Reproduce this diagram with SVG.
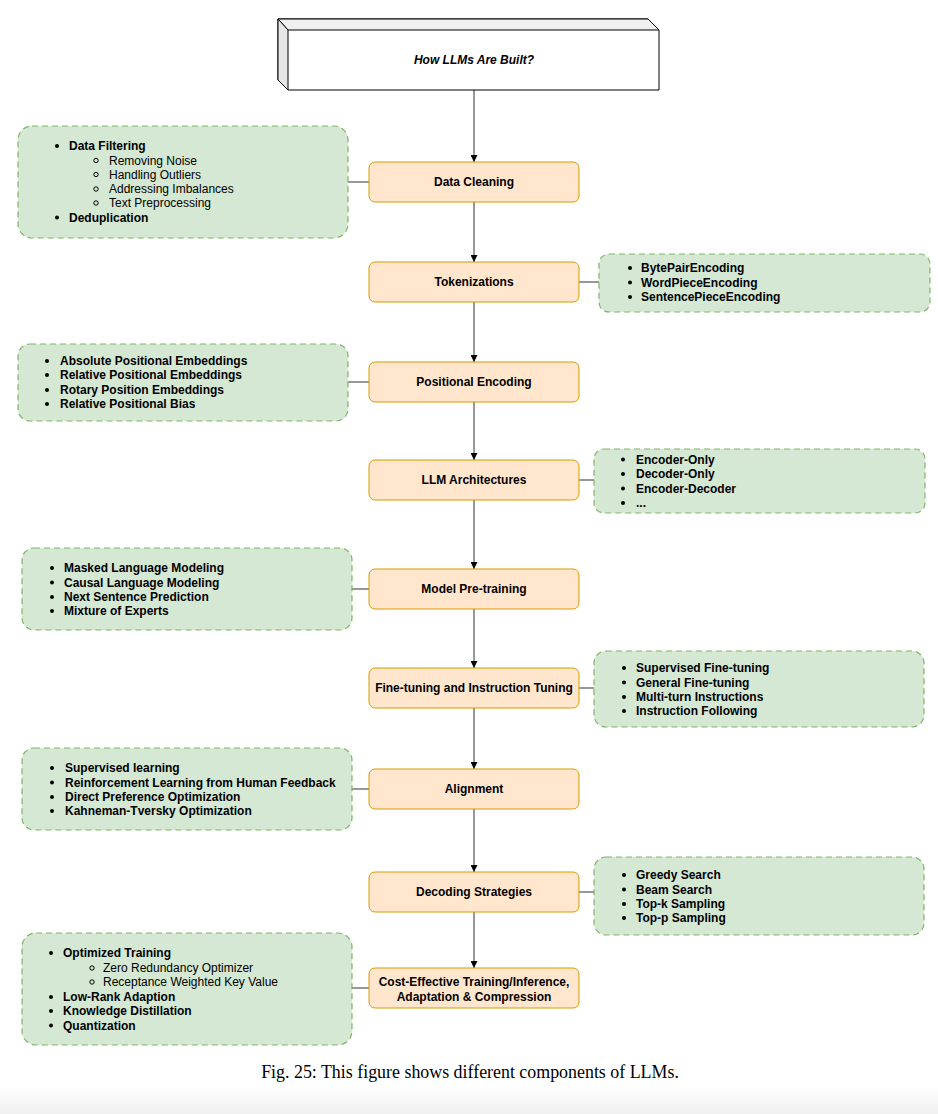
<svg xmlns="http://www.w3.org/2000/svg" width="938" height="1114" viewBox="0 0 938 1114">
<style>
.step{fill:#ffe6cc;stroke:#d79b00;stroke-width:1}
.list{fill:#d5e8d4;stroke:#82b366;stroke-width:1.2;stroke-dasharray:6 4}
.t{font-family:"Liberation Sans",Arial,sans-serif;font-size:12px;font-weight:bold;fill:#000}
.s{font-family:"Liberation Sans",Arial,sans-serif;font-size:12px;fill:#000}
.c{text-anchor:middle}
.bul{fill:#000}
.sub{fill:none;stroke:#000;stroke-width:1}
.conn line{stroke:#333;stroke-width:1}
</style>
<defs>
<marker id="arr" viewBox="0 0 10 10" refX="10" refY="5" markerWidth="7" markerHeight="7" orient="auto" markerUnits="userSpaceOnUse">
<path d="M0,0 L10,5 L0,10 Z" fill="#000"/>
</marker>
<linearGradient id="fade" x1="0" y1="0" x2="0" y2="1">
<stop offset="0" stop-color="#ffffff"/>
<stop offset="1" stop-color="#f0f0f0"/>
</linearGradient>
</defs>
<rect x="0" y="0" width="938" height="1114" fill="#fff"/>
<rect x="0" y="1085" width="938" height="29" fill="url(#fade)"/>

<g id="connectors" class="conn">
<line x1="474" y1="90" x2="474" y2="162" marker-end="url(#arr)"/>
<line x1="474" y1="202" x2="474" y2="262" marker-end="url(#arr)"/>
<line x1="474" y1="302" x2="474" y2="362" marker-end="url(#arr)"/>
<line x1="474" y1="402" x2="474" y2="460" marker-end="url(#arr)"/>
<line x1="474" y1="500" x2="474" y2="569" marker-end="url(#arr)"/>
<line x1="474" y1="609" x2="474" y2="668" marker-end="url(#arr)"/>
<line x1="474" y1="708" x2="474" y2="769" marker-end="url(#arr)"/>
<line x1="474" y1="809" x2="474" y2="872" marker-end="url(#arr)"/>
<line x1="474" y1="912" x2="474" y2="968" marker-end="url(#arr)"/>
<line x1="348" y1="182" x2="369" y2="182"/>
<line x1="579" y1="282" x2="599" y2="282"/>
<line x1="348" y1="382" x2="369" y2="382"/>
<line x1="579" y1="480" x2="594" y2="480"/>
<line x1="352" y1="589" x2="369" y2="589"/>
<line x1="579" y1="688" x2="594" y2="688"/>
<line x1="352" y1="789" x2="369" y2="789"/>
<line x1="579" y1="892" x2="594" y2="892"/>
<line x1="352" y1="988" x2="369" y2="988"/>
</g>

<g id="title">
<polygon points="278,19 648,19 659,30 659,90 288,90 278,80" fill="#fff" stroke="#000" stroke-width="1"/>
<polygon points="278,19 648,19 659,30 288,30" fill="#f0f0f0" stroke="#000" stroke-width="1"/>
<polygon points="278,19 288,30 288,90 278,80" fill="#e6e6e6" stroke="#000" stroke-width="1"/>
<text class="t c" x="474" y="64" font-style="italic">How LLMs Are Built?</text>
</g>

<g id="data-cleaning">
<rect class="step" x="369" y="162" width="210" height="40" rx="6"/>
<text class="t c" x="474" y="186">Data Cleaning</text>
</g>
<g id="data-cleaning-list">
<rect class="list" x="18" y="126" width="330" height="112" rx="14"/>
<circle class="bul" cx="57" cy="146" r="2"/><text class="t" x="69" y="150">Data Filtering</text>
<circle class="sub" cx="96" cy="160.5" r="2.2"/><text class="s" x="109" y="164.5">Removing Noise</text>
<circle class="sub" cx="96" cy="174.5" r="2.2"/><text class="s" x="109" y="178.5">Handling Outliers</text>
<circle class="sub" cx="96" cy="189" r="2.2"/><text class="s" x="109" y="193">Addressing Imbalances</text>
<circle class="sub" cx="96" cy="203" r="2.2"/><text class="s" x="109" y="207">Text Preprocessing</text>
<circle class="bul" cx="57" cy="217.5" r="2"/><text class="t" x="69" y="221.5">Deduplication</text>
</g>

<g id="tokenizations">
<rect class="step" x="369" y="262" width="210" height="40" rx="6"/>
<text class="t c" x="474" y="286">Tokenizations</text>
</g>
<g id="tokenizations-list">
<rect class="list" x="599" y="254" width="331" height="58" rx="10"/>
<circle class="bul" cx="630" cy="268" r="2"/><text class="t" x="641" y="272">BytePairEncoding</text>
<circle class="bul" cx="630" cy="282.5" r="2"/><text class="t" x="641" y="286.5">WordPieceEncoding</text>
<circle class="bul" cx="630" cy="297" r="2"/><text class="t" x="641" y="301">SentencePieceEncoding</text>
</g>

<g id="positional-encoding">
<rect class="step" x="369" y="362" width="210" height="40" rx="6"/>
<text class="t c" x="474" y="386">Positional Encoding</text>
</g>
<g id="positional-encoding-list">
<rect class="list" x="18" y="344" width="330" height="77" rx="12"/>
<circle class="bul" cx="47" cy="361" r="2"/><text class="t" x="60" y="365">Absolute Positional Embeddings</text>
<circle class="bul" cx="47" cy="375" r="2"/><text class="t" x="60" y="379">Relative Positional Embeddings</text>
<circle class="bul" cx="47" cy="390" r="2"/><text class="t" x="60" y="394">Rotary Position Embeddings</text>
<circle class="bul" cx="47" cy="404" r="2"/><text class="t" x="60" y="408">Relative Positional Bias</text>
</g>

<g id="llm-architectures">
<rect class="step" x="369" y="460" width="210" height="40" rx="6"/>
<text class="t c" x="474" y="484">LLM Architectures</text>
</g>
<g id="llm-architectures-list">
<rect class="list" x="594" y="449" width="331" height="64" rx="10"/>
<circle class="bul" cx="623" cy="459.5" r="2"/><text class="t" x="636" y="463.5">Encoder-Only</text>
<circle class="bul" cx="623" cy="474" r="2"/><text class="t" x="636" y="478">Decoder-Only</text>
<circle class="bul" cx="623" cy="488.5" r="2"/><text class="t" x="636" y="492.5">Encoder-Decoder</text>
<circle class="bul" cx="623" cy="503" r="2"/><text class="t" x="636" y="507">...</text>
</g>

<g id="model-pretraining">
<rect class="step" x="369" y="569" width="210" height="40" rx="6"/>
<text class="t c" x="474" y="593">Model Pre-training</text>
</g>
<g id="model-pretraining-list">
<rect class="list" x="22" y="548" width="330" height="82" rx="12"/>
<circle class="bul" cx="52" cy="568" r="2"/><text class="t" x="64" y="572">Masked Language Modeling</text>
<circle class="bul" cx="52" cy="582.5" r="2"/><text class="t" x="64" y="586.5">Causal Language Modeling</text>
<circle class="bul" cx="52" cy="597" r="2"/><text class="t" x="64" y="601">Next Sentence Prediction</text>
<circle class="bul" cx="52" cy="611" r="2"/><text class="t" x="64" y="615">Mixture of Experts</text>
</g>

<g id="fine-tuning">
<rect class="step" x="369" y="668" width="210" height="40" rx="6"/>
<text class="t c" x="474" y="692">Fine-tuning and Instruction Tuning</text>
</g>
<g id="fine-tuning-list">
<rect class="list" x="594" y="651" width="330" height="76" rx="12"/>
<circle class="bul" cx="624" cy="668" r="2"/><text class="t" x="636" y="672">Supervised Fine-tuning</text>
<circle class="bul" cx="624" cy="682.5" r="2"/><text class="t" x="636" y="686.5">General Fine-tuning</text>
<circle class="bul" cx="624" cy="697" r="2"/><text class="t" x="636" y="701">Multi-turn Instructions</text>
<circle class="bul" cx="624" cy="711" r="2"/><text class="t" x="636" y="715">Instruction Following</text>
</g>

<g id="alignment">
<rect class="step" x="369" y="769" width="210" height="40" rx="6"/>
<text class="t c" x="474" y="793">Alignment</text>
</g>
<g id="alignment-list">
<rect class="list" x="22" y="748" width="330" height="82" rx="12"/>
<circle class="bul" cx="52" cy="768" r="2"/><text class="t" x="65" y="772">Supervised learning</text>
<circle class="bul" cx="52" cy="782.5" r="2"/><text class="t" x="65" y="786.5">Reinforcement Learning from Human Feedback</text>
<circle class="bul" cx="52" cy="797" r="2"/><text class="t" x="65" y="801">Direct Preference Optimization</text>
<circle class="bul" cx="52" cy="811" r="2"/><text class="t" x="65" y="815">Kahneman-Tversky Optimization</text>
</g>

<g id="decoding-strategies">
<rect class="step" x="369" y="872" width="210" height="40" rx="6"/>
<text class="t c" x="474" y="896">Decoding Strategies</text>
</g>
<g id="decoding-strategies-list">
<rect class="list" x="594" y="857" width="330" height="78" rx="12"/>
<circle class="bul" cx="624" cy="875" r="2"/><text class="t" x="636" y="879">Greedy Search</text>
<circle class="bul" cx="624" cy="889.5" r="2"/><text class="t" x="636" y="893.5">Beam Search</text>
<circle class="bul" cx="624" cy="904" r="2"/><text class="t" x="636" y="908">Top-k Sampling</text>
<circle class="bul" cx="624" cy="918" r="2"/><text class="t" x="636" y="922">Top-p Sampling</text>
</g>

<g id="cost-effective">
<rect class="step" x="369" y="968" width="210" height="40" rx="6"/>
<text class="t c" x="474" y="986">Cost-Effective Training/Inference,</text>
<text class="t c" x="474" y="1001">Adaptation &amp; Compression</text>
</g>
<g id="cost-effective-list">
<rect class="list" x="22" y="933" width="330" height="112" rx="14"/>
<circle class="bul" cx="51" cy="953" r="2"/><text class="t" x="63" y="957">Optimized Training</text>
<circle class="sub" cx="92" cy="968" r="2.2"/><text class="s" x="103" y="972">Zero Redundancy Optimizer</text>
<circle class="sub" cx="92" cy="982" r="2.2"/><text class="s" x="103" y="986">Receptance Weighted Key Value</text>
<circle class="bul" cx="51" cy="997" r="2"/><text class="t" x="63" y="1001">Low-Rank Adaption</text>
<circle class="bul" cx="51" cy="1011" r="2"/><text class="t" x="63" y="1015">Knowledge Distillation</text>
<circle class="bul" cx="51" cy="1025.5" r="2"/><text class="t" x="63" y="1029.5">Quantization</text>
</g>

<text x="470" y="1078" text-anchor="middle" font-family="'Liberation Serif','Times New Roman',serif" font-size="17.9px" fill="#000">Fig. 25: This figure shows different components of LLMs.</text>
</svg>
